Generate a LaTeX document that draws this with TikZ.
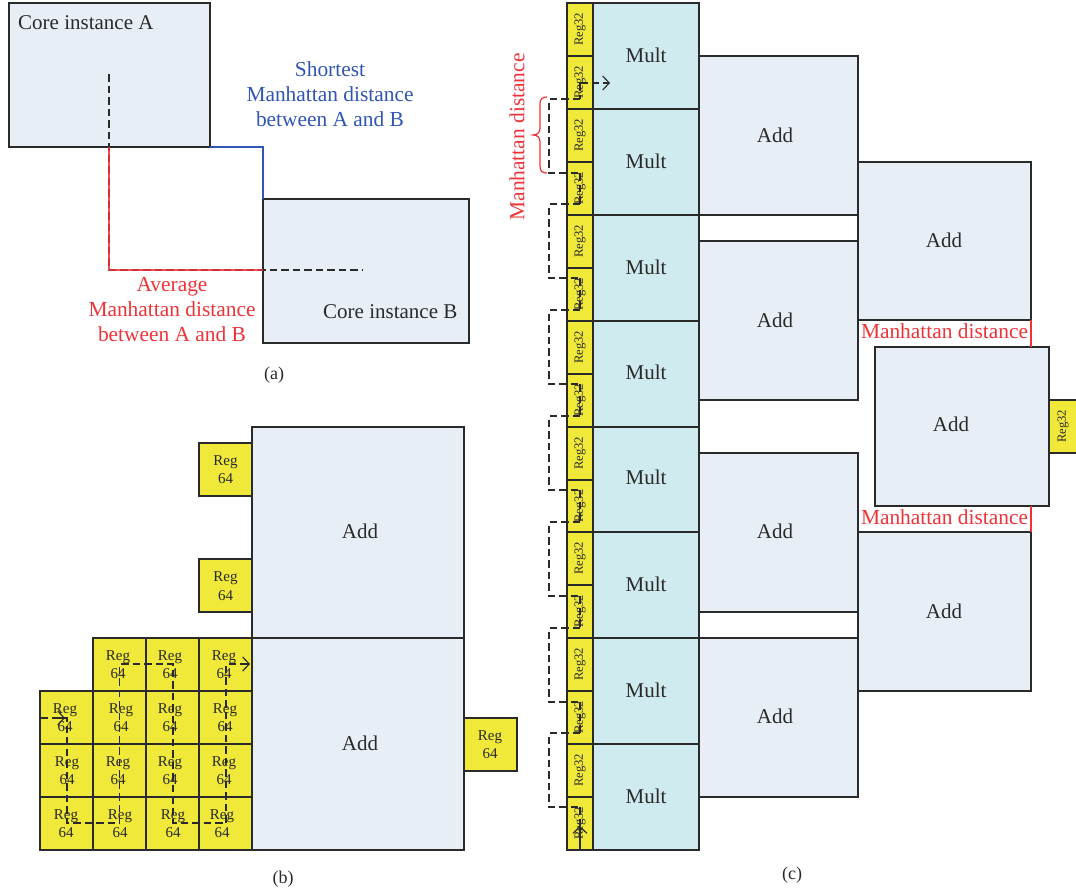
\documentclass[tikz,border=0pt]{standalone}
\usepackage{fontspec}
\setmainfont{Liberation Serif}
\usetikzlibrary{arrows.meta}
\definecolor{corefill}{HTML}{E8EEF6}
\definecolor{regfill}{HTML}{F0E93A}
\definecolor{multfill}{HTML}{CFEBF0}
\definecolor{redtext}{HTML}{EE3338}
\definecolor{bluetext}{HTML}{2F55B5}
\definecolor{inkline}{HTML}{2A2A2A}
\newcommand{\fs}[1]{\fontsize{#1}{#1}\selectfont}
\newcommand{\bx}[6]{\node[cell,#6,minimum width={(#4-#2)*1pt},minimum height={(#5-#3)*1pt}] (#1) at ({(#2+#4)/2},{(#3+#5)/2}) {};}
\tikzset{
  cell/.style={draw=inkline,line width=1.5pt,inner sep=0pt,outer sep=0pt,rectangle},
  corebox/.style={fill=corefill},
  regbox/.style={fill=regfill},
  multbox/.style={fill=multfill},
  big/.style={font=\fs{21},text=inkline,inner sep=0pt},
  cap64/.style={font=\fontsize{15}{18.5}\selectfont,align=center,text=inkline,inner sep=0pt},
  cap32/.style={font=\fs{12.6},rotate=90,text=inkline,inner sep=0pt},
  redcap/.style={font=\fontsize{21.4}{25}\selectfont,text=redtext,align=center,inner sep=0pt},
  bluecap/.style={font=\fontsize{21.4}{25}\selectfont,text=bluetext,align=center,inner sep=0pt},
  subcap/.style={font=\fs{18},text=inkline,inner sep=0pt},
  route/.style={draw=inkline,line width=1.15pt,dash pattern=on 7.5pt off 4pt},
  tipped/.style={draw=inkline,line width=1.15pt,-{Straight Barb[length=6.5pt,width=14pt,line width=1.15pt]}},
}
\begin{document}
\begin{tikzpicture}[x=1pt,y=-1pt]
\useasboundingbox (0,0) rectangle (1076,894);
% ---------- (a)
\bx{coreA}{9}{3}{210}{147}{corebox}
\bx{coreB}{263}{199}{469}{343}{corebox}
\node[big,anchor=west] (coreAt) at (18,23) {Core instance A};
\node[big,anchor=west] (coreBt) at (323,312) {Core instance B};
\coordinate (aS) at (109,74);
\coordinate (aE) at (362,270);
\coordinate (aRs) at (109,147);
\coordinate (aRe) at (263,270);
\draw[route] (aS) |- (aE);
\draw[redtext,opacity=0.85,line width=1.4pt] (aRs) |- (aRe);
\draw[bluetext,line width=1.3pt] (coreA.south east) -| (coreB.north west);
\node[bluecap] (shortT) at (330,94) {Shortest\\Manhattan distance\\between A and B};
\node[redcap] (avgT) at (172,310) {Average\\Manhattan distance\\between A and B};
\node[subcap] (capA) at (274,375) {(a)};
% ---------- (b)
\bx{addB1}{252}{427}{464}{638}{corebox}
\bx{addB2}{252}{638}{464}{850}{corebox}
\node[big] (addB1t) at (360,531) {Add};
\node[big] (addB2t) at (360,743) {Add};
\bx{rA}{199}{443}{252}{496}{regbox}
\bx{rB}{199}{559}{252}{612}{regbox}
\bx{rC}{464}{718}{517}{771}{regbox}
\node[cap64] (rAt) at (225.5,469.5) {Reg\\64};
\node[cap64] (rBt) at (225.5,586) {Reg\\64};
\node[cap64] (rCt) at (490,744.5) {Reg\\64};
\foreach \xa/\xb/\ya/\yb/\nm in {
 93/146/638/691/a2,146/199/638/691/a3,199/252/638/691/a4,
 40/93/691/744/b1,93/146/691/744/b2,146/199/691/744/b3,199/252/691/744/b4,
 40/93/744/797/c1,93/146/744/797/c2,146/199/744/797/c3,199/252/744/797/c4,
 40/93/797/850/d1,93/146/797/850/d2,146/199/797/850/d3,199/252/797/850/d4}{
  \bx{g\nm}{\xa}{\ya}{\xb}{\yb}{regbox}
}
\foreach \tx/\ty/\nm in {
 118/664.5/a2,170/664.5/a3,224/664.5/a4,
 65/717.5/b1,121/717.5/b2,170/717.5/b3,225/717.5/b4,
 67/770.5/c1,118/770.5/c2,170/770.5/c3,224/770.5/c4,
 66/823.5/d1,120/823.5/d2,173/823.5/d3,222/823.5/d4}{
  \node[cap64] (t\nm) at (\tx,\ty) {Reg\\64};
}
\coordinate (bIn) at (40,718);
\coordinate (bInTip) at (65,718);
\coordinate (bP1) at (67,718);
\coordinate (bP2) at (67,823);
\coordinate (bP3) at (119.5,823);
\coordinate (bP4) at (119.5,664);
\coordinate (bP5) at (173,664);
\coordinate (bP6) at (173,823);
\coordinate (bP7) at (226,823);
\coordinate (bP8) at (226,664);
\coordinate (bOut) at (250,664);
\draw[route] (bIn) -- (bP1) -- (bP2) -- (bP3) -- (bP4) -- (bP5) -- (bP6) -- (bP7) -- (bP8) -- (bOut);
\draw[tipped] (bIn) ++(18,0) -- (bInTip);
\draw[tipped] (bP8) ++(14,0) -- (bOut);
\node[subcap] (capB) at (283,879) {(b)};
% ---------- (c): right-hand Add boxes first
\bx{add1}{699}{56}{858}{215}{corebox}
\bx{add2}{699}{241}{858}{400}{corebox}
\bx{add3}{699}{453}{858}{612}{corebox}
\bx{add4}{699}{638}{858}{797}{corebox}
\bx{add5}{858}{162}{1031}{320}{corebox}
\bx{add6}{858}{532}{1031}{691}{corebox}
\bx{add7}{875}{347}{1049}{506}{corebox}
\bx{rR}{1049}{400}{1078}{453}{regbox}
\node[cap32] (rRt) at (1063,426.5) {Reg32};
\foreach \tx/\ty/\nm in {775/135/1,775/320/2,775/531/3,775/716/4,944/240/5,944/611/6,951/424/7}{
  \node[big] (add\nm t) at (\tx,\ty) {Add};
}
\foreach \ya/\yb/\ty/\nm in {3/109/55/1,109/215/161/2,215/321/267/3,321/427/372/4,427/532/477/5,532/638/584/6,638/744/690/7,744/850/796/8}{
  \bx{mult\nm}{593}{\ya}{699}{\yb}{multbox}
  \node[big] (mult\nm t) at (646,\ty) {Mult};
}
\foreach \ya/\yb/\nm in {3/56/1,56/109/2,109/162/3,162/215/4,215/268/5,268/321/6,321/374/7,374/427/8,427/480/9,480/532/10,532/585/11,585/638/12,638/691/13,691/744/14,744/797/15,797/850/16}{
  \bx{rr\nm}{567}{\ya}{593}{\yb}{regbox}
  \node[cap32] (rr\nm t) at (580,{(\ya+\yb)/2}) {Reg32};
}
% dashed route through the Reg32 column
\coordinate (cTop) at (580,83);
\coordinate (cTip) at (610,83);
\coordinate (cBot) at (580,850);
\coordinate (cBotTip) at (580,826);
\foreach \i/\yt/\yb in {1/99/173,2/204/278,3/310/384,4/416/490,5/522/596,6/628/702,7/733/807}{
  \coordinate (up\i) at (580,\yt);
  \coordinate (dn\i) at (580,\yb);
  \draw[route] (up\i) -- ++(-31,0) |- (dn\i);
}
\draw[route] (cTop) -- (up1);
\foreach \i/\j in {1/2,2/3,3/4,4/5,5/6,6/7}{\draw[route] (dn\i) -- (up\j);}
\draw[route] (dn7) -- (cBotTip);
\draw[tipped] (cBot) -- (cBotTip);
\draw[route,-{Straight Barb[length=6.5pt,width=14pt,line width=1.15pt]}] (cTop) -- (cTip);
% red brace and labels
\coordinate (brT) at (547,97);
\coordinate (brB) at (547,173);
\coordinate (brM) at (533,135);
\draw[redtext,line width=1.2pt] (brT) .. controls (542,97) and (540,99) .. (540,104) -- (540,128) .. controls (540,132) and (538,135) .. (brM) .. controls (538,135) and (540,138) .. (540,142) -- (540,166) .. controls (540,171) and (542,173) .. (brB);
\node[redcap,rotate=90] (mdV) at (517,137) {Manhattan distance};
\node[redcap] (mdH1) at (944.5,331.5) {Manhattan distance};
\node[redcap] (mdH2) at (944.5,517.5) {Manhattan distance};
\coordinate (g1a) at (1031,347);
\coordinate (g2a) at (1031,506);
\draw[redtext,line width=1.1pt] (add5.south east) -- (g1a);
\draw[redtext,line width=1.1pt] (g2a) -- (add6.north east);
\node[subcap] (capC) at (792,875) {(c)};
\end{tikzpicture}
\end{document}
